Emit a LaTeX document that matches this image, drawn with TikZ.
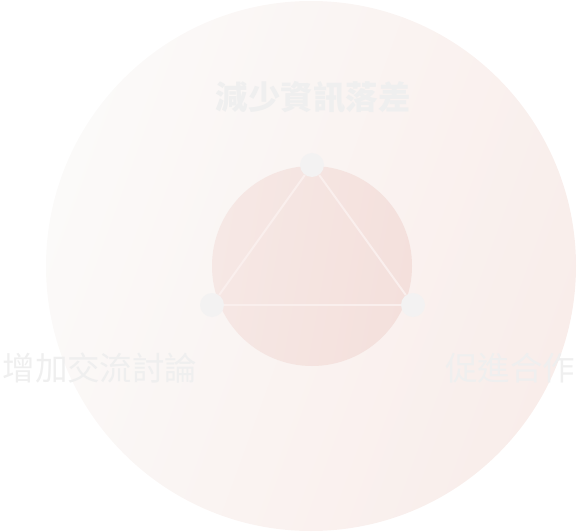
\documentclass[tikz,border=0pt]{standalone}
\usepackage{fontspec}
\newfontfamily\cjk{Noto Sans CJK TC}
\definecolor{bgwhite}{HTML}{FBFAF9}
\definecolor{bgpink}{HTML}{F9EDEA}
\definecolor{innerl}{HTML}{F6E8E5}
\definecolor{innerr}{HTML}{F4E0DC}
\definecolor{dotgray}{HTML}{F3F2F2}
\definecolor{linepink}{HTML}{FAEFED}
\definecolor{txtgray}{HTML}{EFEFEF}

\begin{document}
\begin{tikzpicture}[x=1pt,y=-1pt,
                    dot/.style={circle,fill=dotgray,inner sep=0pt,minimum size=24pt},
                    side/.style={draw=linepink,line width=2pt},
                    goal/.style={text=txtgray,inner sep=0pt,font=\cjk\fontsize{32.5}{32.5}\selectfont}]
  \useasboundingbox (0,0) rectangle (579,532);

  % 大圓與內圓
  \shade[left color=bgwhite,right color=bgpink,shading angle=70] (311,266) circle (265);
  \shade[left color=innerl,right color=innerr,shading angle=80] (312,266) circle (100);

  % 三個頂點
  \node[dot] (top)   at (312,165) {};
  \node[dot] (left)  at (212,305) {};
  \node[dot] (right) at (413,305) {};

  % 三角形
  \draw[side] (top) -- (right);
  \draw[side] (right) -- (left);
  \draw[side] (left) -- (top);

  % 文字
  \node[goal,font=\cjk\bfseries\fontsize{32.5}{32.5}\selectfont] (less) at (313,97) {減少資訊落差};
  \node[goal] (talk) at (100,368) {增加交流討論};
  \node[goal] (work) at (510,368) {促進合作};
\end{tikzpicture}
\end{document}
